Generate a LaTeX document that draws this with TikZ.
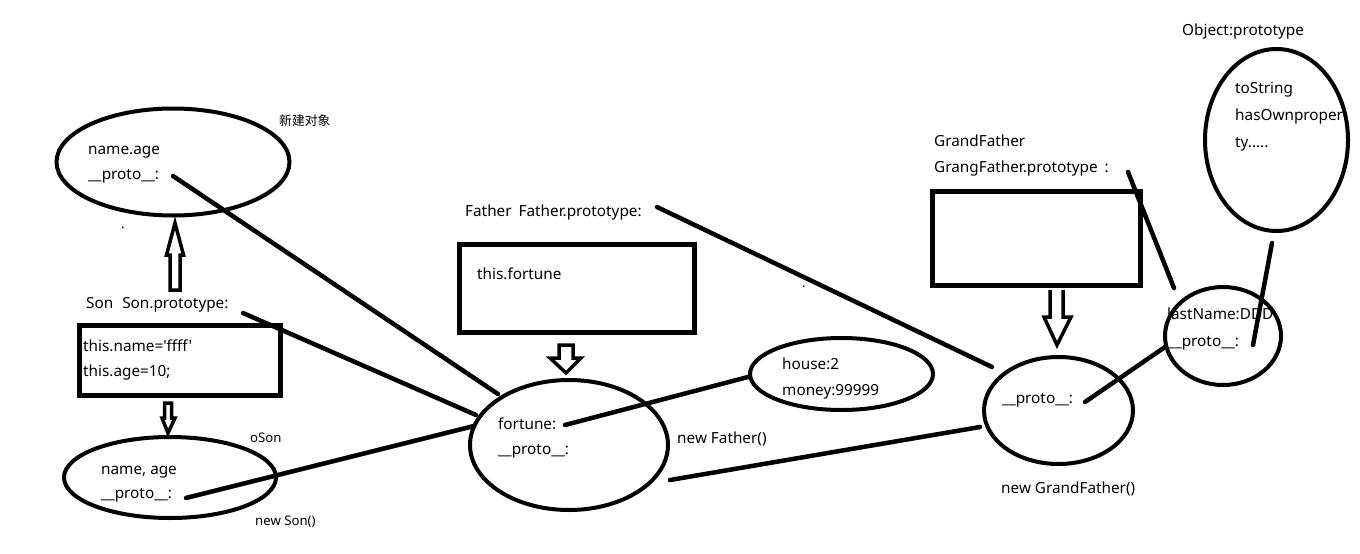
\documentclass[tikz,border=0pt]{standalone}
\usepackage{fontspec}
\setmainfont{Noto Sans}[Ligatures=TeXOff]
\newfontfamily\cjk{Noto Sans CJK SC}
\usetikzlibrary{shapes.geometric}
\begin{document}
\begin{tikzpicture}[x=1pt,y=-1pt,
  txt/.style={anchor=mid west,inner sep=0pt,yshift=-2pt,font=\fontsize{15.3}{18}\selectfont},
  smalltxt/.style={anchor=mid west,inner sep=0pt,yshift=-2pt,font=\fontsize{13.2}{15}\selectfont},
  oval/.style={draw,ellipse,line width=4pt,inner sep=0pt},
  codebox/.style={draw,line width=5pt},
  link/.style={line width=4.5pt,line cap=round},
  hollow/.style={draw,line width=3.5pt,fill=white,line join=miter}]
\useasboundingbox (0,0) rectangle (1360,554);

% ellipses
\node[oval,minimum width=233pt,minimum height=107pt] (newobj) at (173,162) {};
\node[oval,minimum width=212pt,minimum height=81pt] (oson) at (170,477.5) {};
\node[oval,minimum width=198pt,minimum height=130pt] (fortune) at (569,445) {};
\node[oval,minimum width=183pt,minimum height=72pt] (house) at (841.5,374) {};
\node[oval,minimum width=149pt,minimum height=107pt] (gf) at (1058.5,410.5) {};
\node[oval,minimum width=116pt,minimum height=98pt] (lastname) at (1223,336) {};
\node[oval,minimum width=143pt,minimum height=182pt] (object) at (1276.5,140) {};

% boxes
\draw[codebox] (79.5,325.5) rectangle (280.5,395.5);
\draw[codebox] (459.5,244.5) rectangle (694.5,332.5);
\draw[codebox] (932.5,191.5) rectangle (1140.5,285.5);

% hollow arrows
\draw[hollow] (170,290) -- (170,255) -- (166.5,255) -- (175,223) -- (183.5,255) -- (180,255) -- (180,290) -- cycle;
\draw[hollow] (164.5,403) -- (164.5,418) -- (162,418) -- (168,433) -- (175,418) -- (171.5,418) -- (171.5,403) -- cycle;
\draw[hollow] (559,345) -- (559,358) -- (550,358) -- (566,373) -- (581,358) -- (573,358) -- (573,345) -- cycle;
\draw[hollow] (1050,290) -- (1050,317) -- (1044,317) -- (1057,345) -- (1071,317) -- (1063,317) -- (1063,290);

% texts
\node[txt] (t1) at (88,150) {name.age};
\node[txt] (t2) at (88,175) {\_\_proto\_\_:};
\node[anchor=west,inner sep=0pt,font=\cjk\fontsize{12.8}{15}\selectfont] (t3) at (279,121) {新建对象};
\node[txt] (t4) at (86,304) {Son\hspace{9pt}Son.prototype:};
\node[txt] (t5) at (83,347) {this.name='ffff'};
\node[txt] (t6) at (83,372) {this.age=10;};
\node[smalltxt] (t7) at (250,438) {oSon};
\node[txt] (t8) at (101,470) {name, age};
\node[txt] (t9) at (101,494) {\_\_proto\_\_:};
\node[smalltxt] (t10) at (255,521) {new Son()};
\node[txt] (t11) at (465,212) {Father\hspace{7pt}Father.prototype:};
\node[txt] (t12) at (477,275) {this.fortune};
\node[txt] (t13) at (498,425) {fortune:};
\node[txt] (t14) at (498,450) {\_\_proto\_\_:};
\node[txt] (t15) at (677,439) {new Father()};
\node[txt] (t16) at (782,365) {house:2};
\node[txt] (t17) at (782,391) {money:99999};
\node[txt] (t18) at (934,142) {GrandFather};
\node[txt] (t19) at (934,168) {GrangFather.prototype\hspace{7pt}:};
\node[txt] (t20) at (1002,399) {\_\_proto\_\_:};
\node[txt] (t21) at (1001,489) {new GrandFather()};
\node[txt] (t22) at (1167,315) {lastName:DDD};
\node[txt] (t23) at (1168,342) {\_\_proto\_\_:};
\node[txt] (t24) at (1182,31) {Object:prototype};
\node[txt] (t25) at (1235,89) {toString};
\node[txt] (t26) at (1235,116) {hasOwnproper};
\node[txt] (t27) at (1235,143) {ty.....};
\node[smalltxt] (d1) at (121,224) {.};
\node[smalltxt] (d2) at (802,283) {.};

% connector endpoints
\coordinate (p1a) at (173,176);  \coordinate (p1b) at (498,394);
\coordinate (p2a) at (243,313);  \coordinate (p2b) at (476,415);
\coordinate (p3a) at (186,498);  \coordinate (p3b) at (474,426);
\coordinate (p4a) at (565,425);  \coordinate (p4b) at (748,377);
\coordinate (p5a) at (670,480);  \coordinate (p5b) at (980,427);
\coordinate (p6a) at (657,207);  \coordinate (p6b) at (992,367);
\coordinate (p7a) at (1128,172); \coordinate (p7b) at (1174,288);
\coordinate (p8a) at (1085,402); \coordinate (p8b) at (1165,347);
\coordinate (p9a) at (1253,345); \coordinate (p9b) at (1272,243);

\draw[link] (p1a) -- (p1b);
\draw[link] (p2a) -- (p2b);
\draw[link] (p3a) -- (p3b);
\draw[link] (p4a) -- (p4b);
\draw[link] (p5a) -- (p5b);
\draw[link] (p6a) -- (p6b);
\draw[link] (p7a) -- (p7b);
\draw[link] (p8a) -- (p8b);
\draw[link] (p9a) -- (p9b);
\end{tikzpicture}
\end{document}
